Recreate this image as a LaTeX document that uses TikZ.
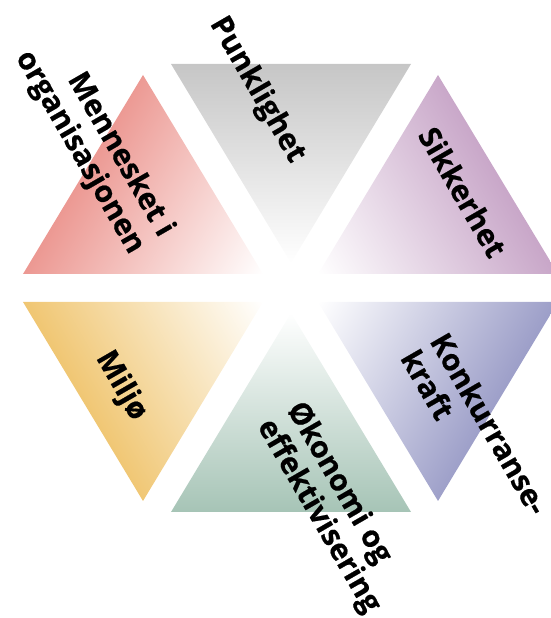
\documentclass[tikz,border=0pt]{standalone}
\usepackage{fontspec}
\setmainfont{Open Sans}
\newfontfamily\lblfont{Open Sans}[UprightFont=* Bold, FakeBold=0.5]
\definecolor{cred}{RGB}{236,152,146}
\definecolor{cgray}{RGB}{198,198,198}
\definecolor{cpurp}{RGB}{200,166,200}
\definecolor{cyell}{RGB}{240,198,114}
\definecolor{cgreen}{RGB}{166,196,182}
\definecolor{cblue}{RGB}{156,158,200}
\tikzset{
  lbl/.style={font=\lblfont\fontsize{30}{34}\selectfont, rotate=-60, inner sep=0pt, text=black},
}
\begin{document}
\begin{tikzpicture}[x=1pt,y=1pt]
\useasboundingbox (0,0) rectangle (551,618);
\clip (0,0) rectangle (551,618);
% red (Mennesket i organisasjonen)
\begin{scope}[transform canvas={shift={(291,330)},rotate=60}]
\shade[top color=cred, bottom color=white] ([rotate=-60]-148,213) -- ([rotate=-60]-268,14) -- ([rotate=-60]-28,14) -- cycle;
\end{scope}
% gray (Punklighet)
\begin{scope}[transform canvas={shift={(291,330)}}]
\shade[top color=cgray, bottom color=white] (-120,224) -- (120,224) -- (0,25) -- cycle;
\end{scope}
% purple (Sikkerhet)
\begin{scope}[transform canvas={shift={(291,330)},rotate=-60}]
\shade[top color=cpurp, bottom color=white] ([rotate=60]147,213) -- ([rotate=60]27,14) -- ([rotate=60]267,14) -- cycle;
\end{scope}
% yellow (Miljo)
\begin{scope}[transform canvas={shift={(291,330)},rotate=120}]
\shade[top color=cyell, bottom color=white] ([rotate=-120]-268,-14) -- ([rotate=-120]-28,-14) -- ([rotate=-120]-148,-213) -- cycle;
\end{scope}
% green (Okonomi)
\begin{scope}[transform canvas={shift={(291,330)},rotate=180}]
\shade[top color=cgreen, bottom color=white] ([rotate=-180]0,-25) -- ([rotate=-180]-120,-224) -- ([rotate=-180]120,-224) -- cycle;
\end{scope}
% blue (Konkurransekraft)
\begin{scope}[transform canvas={shift={(291,330)},rotate=-120}]
\shade[top color=cblue, bottom color=white] ([rotate=120]27,-14) -- ([rotate=120]267,-14) -- ([rotate=120]147,-213) -- cycle;
\end{scope}
% labels
\node[lbl] (punk) at (257,528) {Punklighet};
\node[lbl, align=right] (menn) at (94,474) {Mennesket i\\organisasjonen};
\node[lbl] (sikk) at (463,426) {Sikkerhet};
\node[lbl] (milj) at (121,232) {Miljø};
\node[lbl, align=left] (konk) at (475,186) {Konkurranse-\\kraft};
\node[lbl, align=left] (okon) at (333,110) {Økonomi og\\effektivisering};
\end{tikzpicture}
\end{document}
